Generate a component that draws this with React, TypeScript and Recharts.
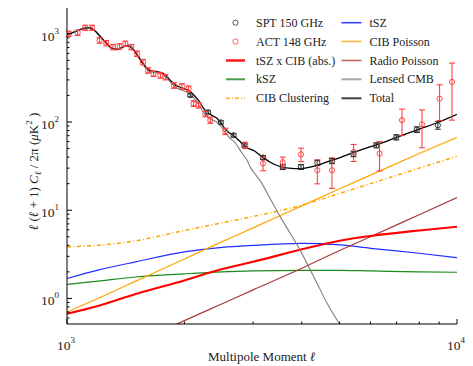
import React from "react";
import { ComposedChart, Line, Scatter, ErrorBar, XAxis, YAxis } from "recharts";

const W = 473, H = 366;
const FONT = "'Liberation Serif', 'Times New Roman', serif";

const fgEll = [1000, 1200, 1500, 2000, 2500, 3000, 4000, 5000, 6000, 8000, 10000];
const tszVals = [1.68, 2.09, 2.6, 3.37, 3.8, 4.0, 4.2, 4.05, 3.7, 3.25, 2.9];
const kszVals = [1.44, 1.57, 1.75, 1.9, 2.0, 2.05, 2.08, 2.08, 2.05, 2.0, 1.98];
const tszCibVals = [0.67, 0.82, 1.12, 1.6, 2.15, 2.6, 3.6, 4.5, 5.1, 5.9, 6.5];
const cibPoissonVals = [0.7, 1.0, 1.57, 2.8, 4.4, 6.3, 11.2, 17.5, 25, 44, 67];
const cibClustVals = [3.85, 4.0, 4.5, 5.9, 7.2, 8.5, 11.4, 15.5, 20, 30, 41];
const radioVals = [0.14, 0.2, 0.31, 0.56, 0.87, 1.25, 2.2, 3.5, 5.0, 8.9, 13.9];

// total spectrum
const totalEll = [1000, 1050, 1100, 1140, 1180, 1220, 1260, 1300, 1350, 1400, 1430, 1470, 1520, 1560, 1600, 1640, 1700, 1750, 1800, 1850, 1900, 1960, 2000, 2060, 2120, 2180, 2240, 2300, 2350, 2420, 2480, 2540, 2600, 2673, 2780, 2870, 3010, 3150, 3320, 3500, 3700, 3966, 4200, 4380, 4776, 5013, 5330, 5800, 6352, 7000, 7934, 9000, 10000];
const totalVals = [985, 1060, 1150, 1170, 1080, 920, 790, 690, 670, 720, 735, 690, 560, 475, 410, 380, 372, 362, 330, 290, 262, 245, 238, 225, 200, 172, 143, 127, 119, 111, 98, 84, 76, 70, 60, 52, 47.5, 41, 35, 31.5, 30, 29.6, 30.8, 32.3, 36.8, 39.5, 43.9, 50, 57, 67, 82, 100, 122];

// lensed CMB alone
const lensedEll = [1000, 1050, 1100, 1140, 1180, 1220, 1260, 1300, 1350, 1400, 1430, 1470, 1520, 1560, 1600, 1640, 1700, 1750, 1800, 1850, 1900, 1960, 2000, 2060, 2120, 2180, 2240, 2300, 2350, 2420, 2496, 2540, 2623, 2702, 2786, 2893, 2960, 3050, 3130, 3320, 3523, 3738, 3966, 4165, 4379, 4644, 4962, 5100];
const lensedVals = [977, 1052, 1141, 1161, 1071, 911, 781, 680, 660, 710, 724, 679, 549, 463, 398, 368, 359, 349, 316, 276, 248, 231, 224, 210, 184, 156, 128, 113, 106, 100, 86, 77, 65, 58, 47, 37, 30, 25, 21.5, 13.5, 8.4, 5.45, 3.5, 2.28, 1.48, 0.88, 0.54, 0.45];

// SPT 150 GHz bandpowers
const sptEll = [2071, 2300, 2480, 2674, 2850, 3182, 3575, 3981, 4384, 4779, 5430, 6210, 6987, 7890, 8930];
const sptVals = [201, 129, 99, 70.7, 54.5, 39.5, 30.9, 30.9, 34.5, 36.2, 43.4, 54.5, 67.1, 82, 91.8];
const sptErr = [8, 5, 4, 3, 2.5, 2, 2, 2, 2.5, 2.5, 3, 3.5, 4.5, 6, 9];

// ACT 148 GHz bandpowers
const actEll = [1010, 1065, 1114, 1159, 1212, 1261, 1312, 1364, 1411, 1462, 1512, 1566, 1613, 1667, 1736, 1787, 1880, 1971, 2050, 2112, 2175, 2263, 2330, 2546, 2866, 3182, 3575, 3981, 4384, 4779, 5432, 6332, 7227, 8133, 9024, 9710];
const actVals = [1000, 1029, 1172, 1172, 842, 785, 707, 720, 772, 707, 595, 478, 385, 353, 338, 323, 260, 254, 239, 162, 155, 124, 105, 78.5, 54.5, 34, 35, 43, 28.4, 28.4, 45.7, 43.9, 105, 94, 184, 285];
const actErr = [70, 70, 80, 80, 60, 55, 50, 50, 55, 50, 42, 34, 28, 25, 24, 23, 19, 18, 17, 12, 11, 9.5, 8.5, 6.5, 4.5, 6, 5, 7.5, 8.5, 10.7, 10, 16, 35, 43, 80, 180];

const xTicks = [1000, 2000, 3000, 4000, 5000, 6000, 7000, 8000, 9000, 10000];
const yTicks = [0.6, 0.7, 0.8, 0.9, 1, 2, 3, 4, 5, 6, 7, 8, 9, 10, 20, 30, 40, 50, 60, 70, 80, 90, 100, 200, 300, 400, 500, 600, 700, 800, 900, 1000];

const zip = (xs: number[], ys: number[], es?: number[]) =>
  xs.map((l, i) => ({ l, v: ys[i], e: es ? es[i] : 0 }));

const decadeExp = (v: number) => {
  const e = Math.log10(v);
  return Math.abs(e - Math.round(e)) < 1e-6 ? Math.round(e) : null;
};

const TickLabel = ({ x, y, exp, anchor }: any) => (
  <text x={x} y={y} textAnchor={anchor} fontFamily={FONT} fontSize={13.5} fill="#222">
    10<tspan fontSize={9} dy={-7}>{exp}</tspan>
  </text>
);

const BottomTick = ({ x, y, payload }: any) => {
  const exp = decadeExp(payload.value);
  return (
    <g>
      <line x1={x} x2={x} y1={y} y2={y - (exp !== null ? 5 : 2.5)} stroke="#000" />
      {exp !== null && <TickLabel x={x - 1} y={y + 26} exp={exp} anchor="middle" />}
    </g>
  );
};
const TopTick = ({ x, y, payload }: any) => {
  const exp = decadeExp(payload.value);
  return <line x1={x} x2={x} y1={y} y2={y + (exp !== null ? 5 : 2.5)} stroke="#000" />;
};
const LeftTick = ({ x, y, payload }: any) => {
  const exp = decadeExp(payload.value);
  return (
    <g>
      <line x1={x} x2={x + (exp !== null ? 5 : 2.5)} y1={y} y2={y} stroke="#000" />
      {exp !== null && <TickLabel x={x - 8} y={y + 7} exp={exp} anchor="end" />}
    </g>
  );
};
const RightTick = ({ x, y, payload }: any) => {
  const exp = decadeExp(payload.value);
  return <line x1={x} x2={x - (exp !== null ? 5 : 2.5)} y1={y} y2={y} stroke="#000" />;
};

const openCircle = (color: string) => (p: any) =>
  <circle cx={p.cx} cy={p.cy} r={2.6} fill="none" stroke={color} strokeWidth={1} />;

const legendCol1 = [
  { name: "SPT 150 GHz", kind: "marker", color: "#555" },
  { name: "ACT 148 GHz", kind: "marker", color: "#ff5a5a" },
  { name: "tSZ x CIB (abs.)", kind: "line", color: "#ff1a1a", width: 2.5 },
  { name: "kSZ", kind: "line", color: "#4a9e4a", width: 2 },
  { name: "CIB Clustering", kind: "dash", color: "#ffbe50", width: 2 },
];
const legendCol2 = [
  { name: "tSZ", kind: "line", color: "#3f3fff", width: 1.6 },
  { name: "CIB Poisson", kind: "line", color: "#ffb43a", width: 1.6 },
  { name: "Radio Poisson", kind: "line", color: "#c46666", width: 1.6 },
  { name: "Lensed CMB", kind: "line", color: "#a6a6a6", width: 2 },
  { name: "Total", kind: "line", color: "#404040", width: 2 },
];

function LegendOverlay() {
  const rows = [22.7, 41.5, 60.5, 79.3, 98.3];
  const handle = (it: any, x1: number, x2: number, y: number) => {
    if (it.kind === "marker")
      return <circle cx={(x1 + x2) / 2} cy={y} r={2.6} fill="none" stroke={it.color} />;
    return (
      <line x1={x1} x2={x2} y1={y} y2={y} stroke={it.color} strokeWidth={it.width}
        strokeDasharray={it.kind === "dash" ? "4 2 1 2" : undefined} />
    );
  };
  return (
    <svg width={W} height={H} style={{ position: "absolute", left: 0, top: 0, pointerEvents: "none" }}>
      {legendCol1.map((it, i) => (
        <g key={it.name}>
          {handle(it, 226, 245, rows[i])}
          <text x={256} y={rows[i] + 4} fontFamily={FONT} fontSize={12} fill="#222">{it.name}</text>
        </g>
      ))}
      {legendCol2.map((it, i) => (
        <g key={it.name}>
          {handle(it, 341.5, 361.5, rows[i])}
          <text x={369.5} y={rows[i] + 4} fontFamily={FONT} fontSize={12} fill="#222">{it.name}</text>
        </g>
      ))}
      <text x={261.7} y={361} textAnchor="middle" fontFamily={FONT} fontSize={13} fill="#222">
        Multipole Moment <tspan fontStyle="italic">ℓ</tspan>
      </text>
      <text x={38} y={171.5} transform="rotate(-90 38 171.5)" textAnchor="middle" fontFamily={FONT} fontSize={13} fill="#222">
        <tspan fontStyle="italic">ℓ</tspan> (<tspan fontStyle="italic">ℓ</tspan> + 1) <tspan fontStyle="italic">C</tspan>
        <tspan fontStyle="italic" fontSize={9} dy={3}>ℓ</tspan>
        <tspan dy={-3}> / 2π (</tspan><tspan fontStyle="italic">μ</tspan>K
        <tspan fontSize={9} dy={-6}>2</tspan><tspan dy={6}> )</tspan>
      </text>
    </svg>
  );
}

export default function App() {
  const series = [
    { vals: tszVals, color: "#1f2fff", w: 1.2 },
    { vals: kszVals, color: "#1a8a1a", w: 1.2 },
    { vals: cibPoissonVals, color: "#ffa500", w: 1.2 },
    { vals: radioVals, color: "#a83a3a", w: 1.2 },
    { vals: tszCibVals, color: "#ff0000", w: 2.1 },
  ];
  return (
    <div style={{ position: "absolute", left: 0, top: 0, width: W, height: H, background: "#fff" }}>
      <ComposedChart width={W} height={H} margin={{ top: 8, right: 16, bottom: 0, left: 0 }}>
        <XAxis dataKey="l" type="number" scale="log" domain={[1000, 10000]} ticks={xTicks} interval={0}
          allowDataOverflow height={42} tickSize={0} tickMargin={0} tickLine={false}
          axisLine={{ stroke: "#000" }} tick={BottomTick} />
        <XAxis xAxisId="top" orientation="top" dataKey="l" type="number" scale="log" domain={[1000, 10000]}
          ticks={xTicks} interval={0} allowDataOverflow height={0} tickSize={0} tickMargin={0}
          tickLine={false} axisLine={{ stroke: "#000" }} tick={TopTick} />
        <YAxis type="number" scale="log" domain={[0.513, 1960]} ticks={yTicks} interval={0}
          allowDataOverflow width={67} tickSize={0} tickMargin={0} tickLine={false}
          axisLine={{ stroke: "#000" }} tick={LeftTick} />
        <YAxis yAxisId="right" orientation="right" type="number" scale="log" domain={[0.513, 1960]}
          ticks={yTicks} interval={0} allowDataOverflow width={0} tickSize={0} tickMargin={0}
          tickLine={false} axisLine={{ stroke: "#000" }} tick={RightTick} />

        <Line data={zip(fgEll, cibClustVals)} dataKey="v" type="monotone" stroke="#ffa500" strokeWidth={1.5}
          strokeDasharray="4 2.5 1 2.5" dot={false} isAnimationActive={false} />
        {series.map((s, i) => (
          <Line key={i} data={zip(fgEll, s.vals)} dataKey="v" type="monotone" stroke={s.color}
            strokeWidth={s.w} dot={false} isAnimationActive={false} />
        ))}
        <Line data={zip(lensedEll, lensedVals)} dataKey="v" type="monotone" stroke="#808080" strokeWidth={1.1}
          dot={false} isAnimationActive={false} />
        <Line data={zip(totalEll, totalVals)} dataKey="v" type="monotone" stroke="#000" strokeWidth={1.3}
          dot={false} isAnimationActive={false} />

        <Scatter data={zip(sptEll, sptVals, sptErr)} dataKey="v" shape={openCircle("#333")} isAnimationActive={false}>
          <ErrorBar dataKey="e" direction="y" width={3} stroke="#222" strokeWidth={1} />
        </Scatter>
        <Scatter data={zip(actEll, actVals, actErr)} dataKey="v" shape={openCircle("#ff4a4a")} isAnimationActive={false}>
          <ErrorBar dataKey="e" direction="y" width={3} stroke="#ff3030" strokeWidth={1} />
        </Scatter>
      </ComposedChart>
      <LegendOverlay />
    </div>
  );
}
